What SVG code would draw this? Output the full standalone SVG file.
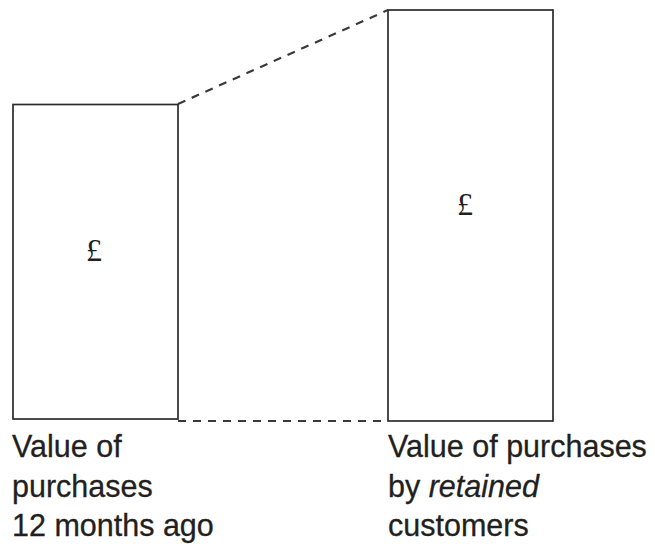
<svg xmlns="http://www.w3.org/2000/svg" width="655" height="544" viewBox="0 0 655 544">
  <style>
    .bar { fill: #ffffff; stroke: #2b2b2b; stroke-width: 1.7; }
    .link { fill: none; stroke: #3a3a3a; stroke-width: 2.2; stroke-dasharray: 8 7; }
    .sym { font-family: "Liberation Serif", serif; font-size: 32px; fill: #231f20; text-anchor: middle; }
    .cap { font-family: "Liberation Sans", Arial, sans-serif; font-size: 30.5px; fill: #231f20; stroke: #231f20; stroke-width: 0.3; }
  </style>
  <rect width="655" height="544" fill="#ffffff"/>

  <g id="connectors">
    <line class="link" x1="178" y1="104" x2="388" y2="10"/>
    <line class="link" x1="178" y1="421" x2="388" y2="421"/>
  </g>

  <g id="past">
    <rect class="bar" x="13" y="104.5" width="165" height="314.5"/>
    <text class="sym" x="94" y="261">£</text>
    <text class="cap" x="12" y="457">Value of</text>
    <text class="cap" x="12" y="497">purchases</text>
    <text class="cap" x="12" y="536">12 months ago</text>
  </g>

  <g id="retained">
    <rect class="bar" x="388" y="10" width="165" height="411"/>
    <text class="sym" x="465" y="215">£</text>
    <text class="cap" x="388" y="457">Value of purchases</text>
    <text class="cap" x="388" y="497">by <tspan font-style="italic">retained</tspan></text>
    <text class="cap" x="388" y="536">customers</text>
  </g>
</svg>
